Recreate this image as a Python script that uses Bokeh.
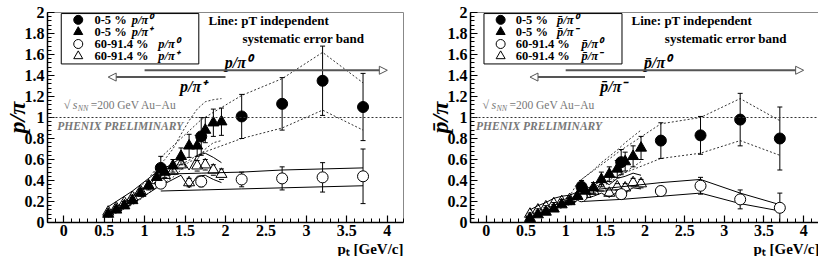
from bokeh.plotting import figure
from bokeh.layouts import row
from bokeh.models import Arrow, NormalHead, FixedTicker, Span, Title
from bokeh.core.properties import value
from bokeh.embed import file_html
from bokeh.resources import INLINE

# ---------------- data ----------------
pt_tri = [0.55, 0.65, 0.75, 0.85, 0.95, 1.05, 1.15, 1.25, 1.35, 1.45, 1.55, 1.65, 1.75, 1.85, 1.95]
pt_cir = [1.2, 1.7, 2.2, 2.7, 3.2, 3.7]

x_ticks = [0, 0.5, 1, 1.5, 2, 2.5, 3, 3.5, 4]
x_tick_labels = ["0", "0.5", "1", "1.5", "2", "2.5", "3", "3.5", "4"]
y_ticks = [0, 0.2, 0.4, 0.6, 0.8, 1, 1.2, 1.4, 1.6, 1.8, 2]
y_tick_labels = ["0", "0.2", "0.4", "0.6", "0.8", "1", "1.2", "1.4", "1.6", "1.8", "2"]

# left panel: p / pi
L_c0_y = [0.52, 0.82, 1.01, 1.13, 1.35, 1.10]
L_c0_err = [0.11, 0.18, 0.21, 0.25, 0.33, 0.32]
L_c0_hi = [0.62, 0.98, 1.21, 1.37, 1.62, 1.33]
L_c0_lo = [0.44, 0.66, 0.80, 0.90, 1.07, 0.88]

L_t0_y = [0.08, 0.12, 0.16, 0.21, 0.28, 0.35, 0.43, 0.48, 0.54, 0.63, 0.73, 0.73, 0.88, 0.95, 0.96]
L_t0_err = [0.02, 0.02, 0.02, 0.03, 0.03, 0.04, 0.05, 0.05, 0.06, 0.08, 0.11, 0.10, 0.12, 0.13, 0.13]
L_t0_hi = [0.10, 0.15, 0.20, 0.26, 0.34, 0.42, 0.52, 0.60, 0.70, 0.84, 0.97, 1.08, 1.15, 1.17, 1.18]
L_t0_lo = [0.05, 0.09, 0.13, 0.17, 0.22, 0.28, 0.34, 0.38, 0.43, 0.50, 0.58, 0.60, 0.70, 0.76, 0.78]

L_c1_y = [0.37, 0.39, 0.41, 0.42, 0.43, 0.44]
L_c1_err = [0.03, 0.05, 0.07, 0.11, 0.14, 0.26]
L_c1_hi = [0.46, 0.47, 0.48, 0.50, 0.51, 0.52]
L_c1_lo = [0.30, 0.31, 0.32, 0.33, 0.34, 0.35]

L_t1_y = [0.10, 0.14, 0.19, 0.24, 0.30, 0.35, 0.40, 0.45, 0.49, 0.55, 0.38, 0.54, 0.55, 0.50, 0.46]
L_t1_err = [0.01, 0.01, 0.01, 0.02, 0.02, 0.02, 0.03, 0.03, 0.03, 0.04, 0.04, 0.05, 0.05, 0.05, 0.05]
L_t1_hi = [0.15, 0.20, 0.25, 0.30, 0.36, 0.42, 0.48, 0.52, 0.56, 0.62, 0.50, 0.64, 0.66, 0.62, 0.57]
L_t1_lo = [0.07, 0.10, 0.14, 0.18, 0.23, 0.28, 0.33, 0.37, 0.41, 0.45, 0.33, 0.44, 0.45, 0.41, 0.38]

# right panel: pbar / pi
R_c0_y = [0.34, 0.575, 0.78, 0.83, 0.98, 0.80]
R_c0_err = [0.06, 0.12, 0.17, 0.18, 0.25, 0.30]
R_c0_hi = [0.41, 0.69, 0.94, 1.00, 1.18, 0.97]
R_c0_lo = [0.28, 0.46, 0.61, 0.66, 0.78, 0.64]

R_t0_y = [0.04, 0.075, 0.10, 0.13, 0.17, 0.20, 0.25, 0.30, 0.33, 0.41, 0.46, 0.51, 0.58, 0.63, 0.71]
R_t0_err = [0.01, 0.01, 0.015, 0.02, 0.02, 0.03, 0.03, 0.04, 0.05, 0.07, 0.07, 0.08, 0.09, 0.10, 0.11]
R_t0_hi = [0.05, 0.09, 0.12, 0.16, 0.21, 0.25, 0.38, 0.44, 0.50, 0.57, 0.63, 0.69, 0.76, 0.82, 0.88]
R_t0_lo = [0.035, 0.065, 0.085, 0.11, 0.14, 0.17, 0.21, 0.25, 0.28, 0.34, 0.38, 0.43, 0.48, 0.53, 0.58]

R_c1_y = [0.25, 0.27, 0.30, 0.35, 0.22, 0.14]
R_c1_err = [0.02, 0.03, 0.04, 0.08, 0.09, 0.14]
R_c1_hi = [0.30, 0.34, 0.38, 0.41, 0.28, 0.17]
R_c1_lo = [0.20, 0.22, 0.25, 0.28, 0.18, 0.11]

R_t1_y = [0.08, 0.12, 0.15, 0.18, 0.20, 0.22, 0.25, 0.27, 0.30, 0.33, 0.28, 0.34, 0.33, 0.38, 0.37]
R_t1_err = [0.01, 0.01, 0.01, 0.01, 0.02, 0.02, 0.02, 0.02, 0.03, 0.03, 0.03, 0.03, 0.04, 0.04, 0.04]
R_t1_hi = [0.12, 0.16, 0.19, 0.23, 0.25, 0.26, 0.29, 0.32, 0.35, 0.40, 0.36, 0.42, 0.44, 0.47, 0.45]
R_t1_lo = [0.05, 0.08, 0.11, 0.14, 0.16, 0.18, 0.21, 0.23, 0.25, 0.28, 0.24, 0.29, 0.29, 0.33, 0.32]

SERIF = "Liberation Serif"
GRAY_T = "#777777"


def errbars(p, xs, ys, es, gap):
    x0, y0, y1 = [], [], []
    for x, y, e in zip(xs, ys, es):
        if e > gap:
            x0 += [x, x]
            y0 += [y + gap, y - gap]
            y1 += [y + e, y - e]
    p.segment(x0=x0, y0=y0, x1=x0, y1=y1, line_color="black", line_width=1)
    p.scatter(x=list(xs) * 2, y=[y + e for y, e in zip(ys, es)] + [y - e for y, e in zip(ys, es)],
              marker="dash", size=5, line_color="black", line_width=1)


def panel(cfg, width, bl, br):
    p = figure(output_backend="svg", toolbar_location=None,
               frame_width=width, frame_height=210,
               x_range=(-0.2, 4.2), y_range=(0, 2),
               min_border_left=bl, min_border_right=br, min_border_top=12, min_border_bottom=0)
    p.grid.visible = False
    p.outline_line_color = "#888888"
    p.outline_line_width = 1
    p.background_fill_color = "white"
    p.border_fill_color = "white"

    p.xaxis.ticker = FixedTicker(ticks=x_ticks, minor_ticks=[round(-0.2 + 0.1 * i, 2) for i in range(45)])
    p.yaxis.ticker = FixedTicker(ticks=y_ticks, minor_ticks=[round(0.04 * i, 2) for i in range(51)])
    p.xaxis.major_label_overrides = dict(zip(x_ticks, x_tick_labels))
    p.yaxis.major_label_overrides = dict(zip(y_ticks, y_tick_labels))
    for ax in (p.xaxis, p.yaxis):
        ax.major_tick_in = 7
        ax.major_tick_out = 0
        ax.minor_tick_in = 4
        ax.minor_tick_out = 0
        ax.axis_line_color = "black"
        ax.axis_line_width = 1.5
        ax.major_tick_line_width = 1.2
        ax.major_label_text_font = SERIF
        ax.major_label_text_font_style = "bold"
        ax.major_label_text_font_size = "16px"
        ax.major_label_text_color = "black"
        ax.axis_label_text_font = SERIF
        ax.axis_label_text_color = "black"
    p.xaxis.major_label_standoff = 2
    p.yaxis.major_label_standoff = 3

    # axis titles
    p.yaxis.axis_label = cfg["ytitle"]
    p.yaxis.axis_label_text_font_style = "bold italic"
    p.yaxis.axis_label_text_font_size = "24px"
    p.yaxis.axis_label_standoff = -8
    p.add_layout(Title(text="p\u209c [GeV/c]", align="right", text_font=SERIF, text_font_style="bold",
                       text_font_size="15px", text_color="black", standoff=0, offset=0), "below")

    p.add_layout(Span(location=1, dimension="width", line_color="#333333", line_dash="2 2", line_width=1))

    # dotted systematic bands (0-5 %)
    for xs, ys in ((pt_tri, cfg["t0_hi"]), (pt_tri, cfg["t0_lo"]), (pt_cir, cfg["c0_hi"]), (pt_cir, cfg["c0_lo"])):
        p.line(xs, ys, line_color="#333333", line_dash="2 2", line_width=1)
    # solid systematic bands (60-91.4 %)
    for xs, ys in ((pt_tri, cfg["t1_hi"]), (pt_tri, cfg["t1_lo"]), (pt_cir, cfg["c1_hi"]), (pt_cir, cfg["c1_lo"])):
        p.line(xs, ys, line_color="black", line_width=1)

    gap = 5.0 / 105.0
    errbars(p, pt_tri, cfg["t1_y"], cfg["t1_err"], gap)
    errbars(p, pt_cir, cfg["c1_y"], cfg["c1_err"], gap)
    errbars(p, pt_tri, cfg["t0_y"], cfg["t0_err"], 0)
    errbars(p, pt_cir, cfg["c0_y"], cfg["c0_err"], 0)

    p.scatter(pt_tri, cfg["t1_y"], marker="triangle", size=11, fill_alpha=0, line_color="black", line_width=1)
    p.scatter(pt_cir, cfg["c1_y"], marker="circle", size=11, fill_color="white", line_color="black", line_width=1)
    p.scatter(pt_tri, cfg["t0_y"], marker="triangle", size=11, fill_color="black", line_color="black")
    p.scatter(pt_cir, cfg["c0_y"], marker="circle", size=11, fill_color="black", line_color="black")

    # legend box
    lx0, lx1, ly0, ly1 = -0.03, cfg["leg_right"], 1.51, 1.99
    p.line([lx0, lx1, lx1, lx0, lx0], [ly0, ly0, ly1, ly1, ly0], line_color="black", line_width=1)
    rows_y = [1.93, 1.815, 1.70, 1.585]
    mx = cfg["leg_mx"]
    p.scatter([mx], [rows_y[0]], marker="circle", size=9, fill_color="black", line_color="black")
    p.scatter([mx], [rows_y[1]], marker="triangle", size=9, fill_color="black", line_color="black")
    p.scatter([mx], [rows_y[2]], marker="circle", size=9, fill_color="white", line_color="black")
    p.scatter([mx], [rows_y[3]], marker="triangle", size=9, fill_color="white", line_color="black")
    p.text(x=[cfg["leg_tx"]] * 4, y=rows_y, text=["0-5 %", "0-5 %", "60-91.4 %", "60-91.4 %"],
           text_font=value(SERIF), text_font_style="bold", text_font_size="12.5px",
           text_baseline="middle", text_align="left", text_color="black")
    p.text(x=[cfg["leg_r1"], cfg["leg_r1"], cfg["leg_r2"], cfg["leg_r2"]], y=rows_y,
           text=[cfg["r0"], cfg["rpm"], cfg["r0"], cfg["rpm"]],
           text_font=value(SERIF), text_font_style="bold italic", text_font_size="12.5px",
           text_baseline="middle", text_align="left", text_color="black")

    p.text(x=[cfg["line_x"], cfg["line_x"] + 0.42], y=[1.92, 1.75],
           text=["Line: pT independent", "systematic error band"],
           text_font=value(SERIF), text_font_style="bold", text_font_size="13px",
           text_baseline="middle", text_align="left", text_color="black")

    # arrows
    p.add_layout(Arrow(end=NormalHead(size=8, fill_color="white", line_color="#555555", line_width=1),
                       x_start=1.0, y_start=1.45, x_end=4.0, y_end=1.45, line_color="#555555", line_width=2))
    p.add_layout(Arrow(end=NormalHead(size=8, fill_color="white", line_color="#555555", line_width=1),
                       x_start=2.0, y_start=1.385, x_end=0.55, y_end=1.385, line_color="#555555", line_width=2))
    p.text(x=[2.16, 1.6], y=[1.52, 1.30], text=[cfg["r0"], cfg["rpm"]],
           text_font=value(SERIF), text_font_style="bold italic", text_font_size="16px",
           text_baseline="middle", text_align="center", text_color="black")

    # energy / preliminary text
    sx = cfg["sqrt_x"]
    p.text(x=[sx], y=[1.115], text=["\u221a"], text_font=value(SERIF), text_font_size="12px",
           text_baseline="middle", text_color=GRAY_T)
    p.text(x=[sx], y=[1.115], text=["s"], x_offset=9, text_font=value(SERIF),
           text_font_style="italic", text_font_size="12px", text_baseline="middle", text_color=GRAY_T)
    p.text(x=[sx], y=[1.115], text=["NN"], x_offset=14, y_offset=3, text_font=value(SERIF),
           text_font_style="italic", text_font_size="8px", text_baseline="middle", text_color=GRAY_T)
    p.text(x=[sx], y=[1.115], text=["=200 GeV Au\u2212Au"], x_offset=27, text_font=value(SERIF),
           text_font_size="11.5px", text_baseline="middle", text_color=GRAY_T)
    p.text(x=[sx - 0.08], y=[0.92], text=["PHENIX PRELIMINARY"], text_font=value(SERIF),
           text_font_style="bold italic", text_font_size="11.5px", text_baseline="middle", text_color=GRAY_T)
    return p


left_cfg = dict(c0_y=L_c0_y, c0_err=L_c0_err, c0_hi=L_c0_hi, c0_lo=L_c0_lo,
                t0_y=L_t0_y, t0_err=L_t0_err, t0_hi=L_t0_hi, t0_lo=L_t0_lo,
                c1_y=L_c1_y, c1_err=L_c1_err, c1_hi=L_c1_hi, c1_lo=L_c1_lo,
                t1_y=L_t1_y, t1_err=L_t1_err, t1_hi=L_t1_hi, t1_lo=L_t1_lo,
                r0="p/\u03c0\u2070", rpm="p/\u03c0\u207a", leg_right=1.67, leg_mx=0.18, leg_tx=0.38,
                leg_r1=0.84, leg_r2=1.17, line_x=1.79, sqrt_x=0.0, ytitle="p/\u03c0")
right_cfg = dict(c0_y=R_c0_y, c0_err=R_c0_err, c0_hi=R_c0_hi, c0_lo=R_c0_lo,
                 t0_y=R_t0_y, t0_err=R_t0_err, t0_hi=R_t0_hi, t0_lo=R_t0_lo,
                 c1_y=R_c1_y, c1_err=R_c1_err, c1_hi=R_c1_hi, c1_lo=R_c1_lo,
                 t1_y=R_t1_y, t1_err=R_t1_err, t1_hi=R_t1_hi, t1_lo=R_t1_lo,
                 r0="p\u0304/\u03c0\u2070", rpm="p\u0304/\u03c0\u207b", leg_right=1.71, leg_mx=0.18,
                 leg_tx=0.37, leg_r1=0.89, leg_r2=1.2, line_x=1.83, sqrt_x=-0.05, ytitle="p\u0304/\u03c0")

p1 = panel(left_cfg, 356, 46, 20)
p2 = panel(right_cfg, 349, 38, 8)
layout = row(p1, p2)

open("out.html", "w").write(file_html(layout, INLINE))
